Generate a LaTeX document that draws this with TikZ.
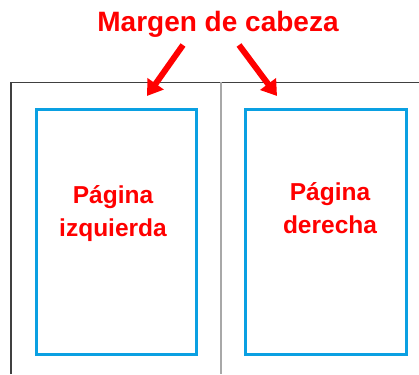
\documentclass[tikz,border=0pt]{standalone}
\usepackage{fontspec}
\setmainfont{Liberation Sans}
\usetikzlibrary{arrows.meta}
\definecolor{myred}{HTML}{FF0000}
\definecolor{myblue}{HTML}{0AA0E2}
\definecolor{mygray}{HTML}{A8A8A8}
\definecolor{mydark}{HTML}{404040}
\tikzset{
  pagebox/.style={draw=myblue, line width=2.6pt, minimum width=160pt, minimum height=245pt, inner sep=0pt, anchor=north west},
  redlabel/.style={text=myred, font=\bfseries\fontsize{24.5}{33}\selectfont, align=center},
  redarrow/.style={draw=myred, line width=6pt, -{Triangle[length=15pt,width=19pt]}},
}
\begin{document}
\begin{tikzpicture}[x=1pt,y=-1pt]
\useasboundingbox (0,0) rectangle (419,374);
% outer frame
\draw[mydark, line width=1.3pt] (11,374) -- (11,82.5) -- (419,82.5);
\draw[mygray, line width=1.2pt] (221,82.5) -- (221,374);
% boxes
\node[pagebox] (left) at (35,108) {};
\node[pagebox, minimum width=161pt] (right) at (244,108) {};
% texts
\node[text=myred, font=\bfseries\fontsize{28}{32}\selectfont, anchor=base] (title) at (218,32) {Margen de cabeza};
\node[redlabel, anchor=base] (lt) at (113,236) {Página\\izquierda};
\node[redlabel, anchor=base] (rt) at (330,233) {Página\\derecha};
% arrows
\coordinate (a1s) at (183,45);
\coordinate (a1e) at (147,96);
\coordinate (a2s) at (239,45);
\coordinate (a2e) at (277,96);
\draw[redarrow] (a1s) -- (a1e);
\draw[redarrow] (a2s) -- (a2e);
\end{tikzpicture}
\end{document}
